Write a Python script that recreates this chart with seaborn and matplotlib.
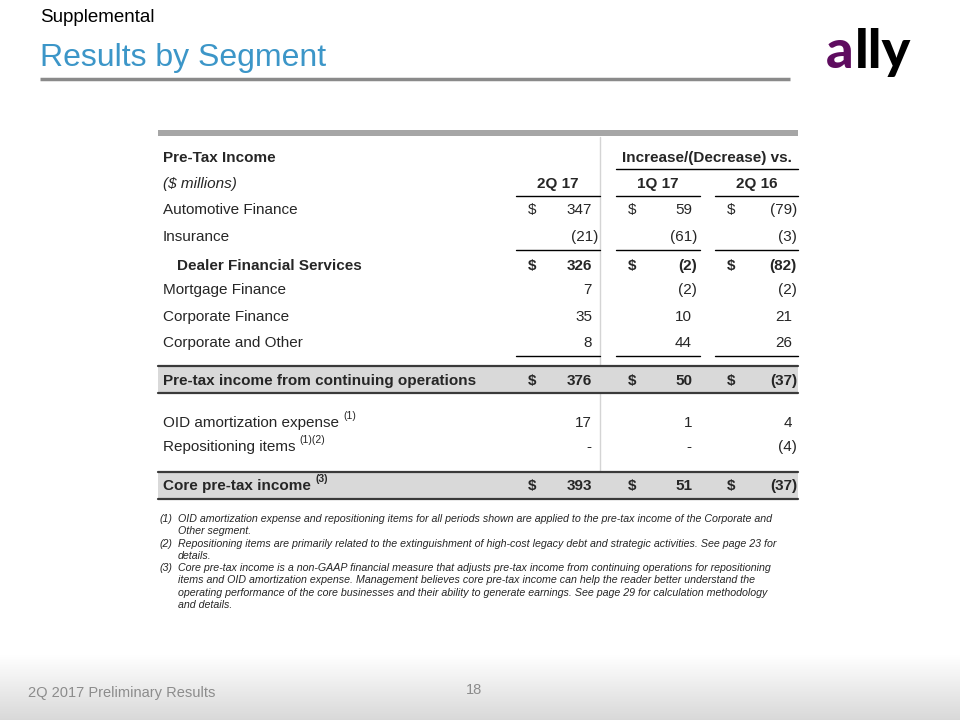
import numpy as np
import matplotlib
matplotlib.use("Agg")
import matplotlib.pyplot as plt
import seaborn as sns

# ---------------- data ----------------
row_labels = ["Automotive Finance", "Insurance", "Dealer Financial Services",
              "Mortgage Finance", "Corporate Finance", "Corporate and Other",
              "Pre-tax income from continuing operations",
              "OID amortization expense", "Repositioning items",
              "Core pre-tax income"]
row_sups = ["", "", "", "", "", "", "", "(1)", "(1)(2)", "(3)"]
col_labels = ["2Q 17", "1Q 17", "2Q 16"]
q2_17 = [347, -21, 326, 7, 35, 8, 376, 17, None, 393]
q1_17 = [59, -61, -2, -2, 10, 44, 50, 1, None, 51]
q2_16 = [-79, -3, -82, -2, 21, 26, -37, 4, -4, -37]
dollar_rows = [0, 2, 6, 9]
bold_rows = [2, 6, 9]
shaded_rows = [6, 9]
indent_rows = [2]
footnotes = [
    ("(1)", ["OID amortization expense and repositioning items for all periods shown are applied to the pre-tax income of the Corporate and",
             "Other segment."]),
    ("(2)", ["Repositioning items are primarily related to the extinguishment of high-cost legacy debt and strategic activities. See page 23 for",
             "details."]),
    ("(3)", ["Core pre-tax income is a non-GAAP financial measure that adjusts pre-tax income from continuing operations for repositioning",
             "items and OID amortization expense. Management believes core pre-tax income can help the reader better understand the",
             "operating performance of the core businesses and their ability to generate earnings. See page 29 for calculation methodology",
             "and details."]),
]

# ---------------- style ----------------
sns.set_theme(style="white")
plt.rcParams['font.family'] = ['Liberation Sans', 'DejaVu Sans']

fig = plt.figure(figsize=(9.6, 7.2), dpi=100)
ax = fig.add_axes([0, 0, 1, 1])
ax.set_xlim(0, 960)
ax.set_ylim(720, 0)
ax.axis("off")

# footer gradient
grad = np.linspace(1.0, 0.85, 100).reshape(-1, 1)
ax.imshow(np.dstack([grad, grad, grad]), extent=(0, 960, 720, 655), aspect="auto", zorder=0)

# header
ax.text(40, 17, "Supplemental", fontsize=13.5, color="black", va="center", ha="left")
ax.text(40, 58, "Results by Segment", fontsize=23, color="#3C96C8", va="center", ha="left")
ax.plot([40, 790], [79, 79], color="#8a8a8a", lw=2.5, solid_capstyle="butt")

# logo
a_txt = ax.text(826, 68, "a", fontsize=39, fontweight="black", family=["Lato", "DejaVu Sans"],
                color="#5E0C5F", va="baseline", ha="left")
ax.annotate("lly", xy=(1, 0), xycoords=a_txt, xytext=(1, 0), textcoords="offset points",
            fontsize=39, fontweight="black", family=["Lato", "DejaVu Sans"], color="black",
            va="bottom", ha="left")

# table frame
ax.add_patch(plt.Rectangle((158, 130), 640, 6, color="#a6a6a6", lw=0, zorder=2))
ax.plot([600, 600], [137, 497], color="#d4d4d4", lw=1, zorder=1)

fs = 11
ax.text(163, 158, "Pre-Tax Income", fontsize=fs, fontweight="bold", va="center")
ax.text(707, 158, "Increase/(Decrease) vs.", fontsize=fs, fontweight="bold", va="center", ha="center")
ax.plot([616, 798], [169, 169], color="black", lw=1)
ax.text(163, 184, "($ millions)", fontsize=fs, fontstyle="italic", va="center")

col_spans = [(516, 600), (616, 700), (715, 798)]
dollar_x = [528, 628, 727]
right_paren = [598, 697, 797]
right_pos = [592, 692, 792]
for (x0, x1), lab in zip(col_spans, col_labels):
    ax.text((x0 + x1) / 2, 184, lab, fontsize=fs, fontweight="bold", va="center", ha="center")
    ax.plot([x0, x1], [196, 196], color="black", lw=1)

row_y = [210, 237, 266, 290, 317, 343, 381, 423, 447, 486]
band = {6: (366, 393), 9: (472, 499)}
for r in shaded_rows:
    y0, y1 = band[r]
    ax.add_patch(plt.Rectangle((158, y0), 640, y1 - y0, color="#d9d9d9", lw=0, zorder=2))
    ax.plot([158, 798], [y0, y0], color="#3a3a3a", lw=1.6, zorder=3)
    ax.plot([158, 798], [y1, y1], color="#3a3a3a", lw=1.6, zorder=3)

for y in [250, 356]:
    for x0, x1 in col_spans:
        ax.plot([x0, x1], [y, y], color="black", lw=1, zorder=3)


def fmt(v):
    if v is None:
        return "-"
    if v < 0:
        return f"({abs(v)})"
    return f"{v}"


series = [q2_17, q1_17, q2_16]
for i, lab in enumerate(row_labels):
    y = row_y[i]
    wt = "bold" if i in bold_rows else "normal"
    x = 177 if i in indent_rows else 163
    t = ax.text(x, y, lab, fontsize=fs, fontweight=wt, va="center", ha="left", zorder=4)
    if row_sups[i]:
        ax.annotate(row_sups[i], xy=(1, 0.62), xycoords=t, xytext=(3, 0),
                    textcoords="offset points", fontsize=7.5, fontweight=wt,
                    va="bottom", ha="left", zorder=4)
    for c, vals in enumerate(series):
        v = vals[i]
        s = fmt(v)
        if v is not None and v < 0:
            xr = right_paren[c]
        elif v is None:
            xr = right_pos[c] - 1
        else:
            xr = right_pos[c]
        ax.text(xr, y, s, fontsize=fs, fontweight=wt, va="center", ha="right", zorder=4)
        if i in dollar_rows:
            ax.text(dollar_x[c], y, "$", fontsize=fs, fontweight=wt, va="center", ha="left", zorder=4)

# footnotes
fy = 519
for num, lines in footnotes:
    ax.text(160, fy, num, fontsize=7.7, fontstyle="italic", va="center", ha="left")
    for ln in lines:
        ax.text(178, fy, ln, fontsize=7.7, fontstyle="italic", va="center", ha="left")
        fy += 12.3

# footer
ax.text(28, 693, "2Q 2017 Preliminary Results", fontsize=10.5, color="#8c8c8c", va="center", ha="left")
ax.text(474, 690, "18", fontsize=10.5, color="#8c8c8c", va="center", ha="center")

fig.savefig("out.png", dpi=100)
